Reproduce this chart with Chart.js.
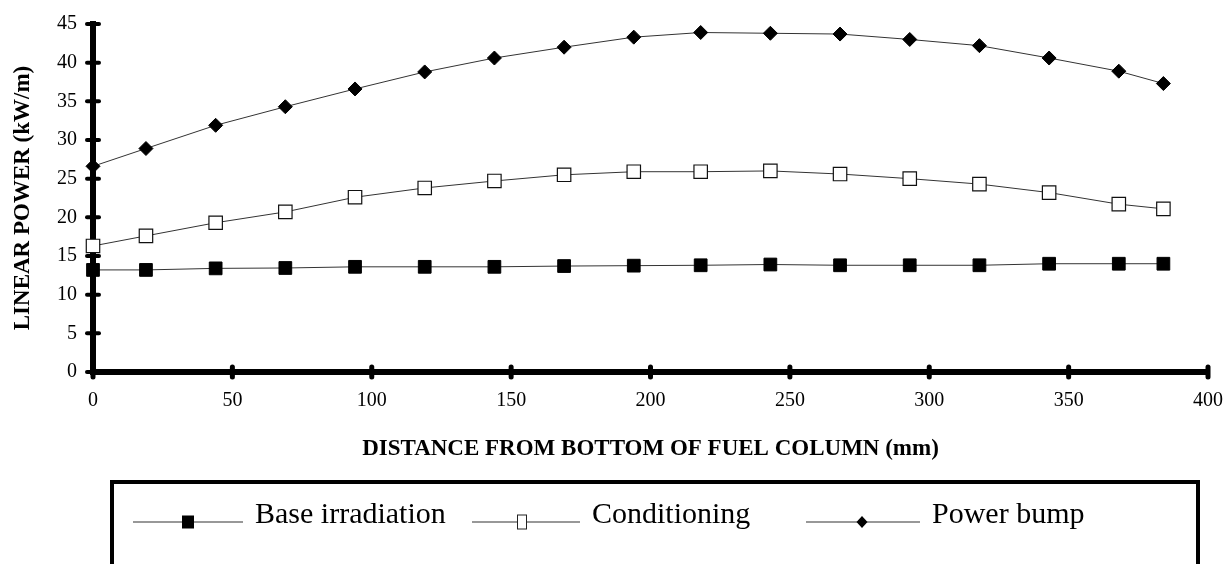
<!DOCTYPE html>
<html>
<head>
<meta charset="utf-8">
<script src="https://cdn.jsdelivr.net/npm/chart.js@4.4.0/dist/chart.umd.min.js"></script>
<style>
html,body{margin:0;padding:0;background:#fff;overflow:hidden;}
#wrap{position:relative;width:1227px;height:564px;overflow:hidden;background:#fff;}
#c{position:absolute;left:0;top:0;display:block;}
#legendBox{position:absolute;left:110px;top:480px;width:1090px;height:130px;border:4px solid #000;box-sizing:border-box;}
.lg-sym{position:absolute;}
.lg-txt{position:absolute;font-family:"Liberation Serif","Times New Roman",serif;font-size:30px;line-height:30px;color:#000;white-space:nowrap;}
</style>
</head>
<body>
<div id="wrap">
  <canvas id="c" width="1227" height="564"></canvas>
  <div id="legendBox"></div>
</div>
<script>
// ---- data ----
const distances = [0, 19, 44, 69, 94, 119, 144, 169, 194, 218, 243, 268, 293, 318, 343, 368, 384];
const baseIrradiation = [13.2, 13.2, 13.4, 13.45, 13.6, 13.6, 13.6, 13.7, 13.75, 13.8, 13.9, 13.8, 13.8, 13.8, 14.0, 14.0, 14.0];
const conditioning = [16.3, 17.6, 19.3, 20.7, 22.6, 23.8, 24.7, 25.5, 25.9, 25.9, 26.0, 25.6, 25.0, 24.3, 23.2, 21.7, 21.1];
const powerBump = [26.6, 28.9, 31.9, 34.3, 36.6, 38.8, 40.6, 42.0, 43.3, 43.9, 43.8, 43.7, 43.0, 42.2, 40.6, 38.9, 37.3];
const seriesNames = ["Base irradiation", "Conditioning", "Power bump"];
const xTitle = "DISTANCE FROM BOTTOM OF FUEL COLUMN (mm)";
const yTitle = "LINEAR POWER (kW/m)";
const xRange = [0, 400], xStep = 50;
const yRange = [0, 45], yStep = 5;

const SERIF = '"Liberation Serif","Times New Roman",serif';
const toXY = arr => arr.map((v, i) => ({x: distances[i], y: v}));

const axisBumps = {
  id: 'axisBumps',
  beforeDatasetsDraw(chart) {
    const {ctx, scales: {x, y}, chartArea} = chart;
    ctx.save();
    ctx.strokeStyle = '#000';
    ctx.lineCap = 'round';
    ctx.lineWidth = 4;
    y.ticks.forEach(t => {
      const py = y.getPixelForValue(t.value);
      ctx.beginPath(); ctx.moveTo(chartArea.left - 6, py); ctx.lineTo(chartArea.left + 6, py); ctx.stroke();
    });
    ctx.lineWidth = 5;
    x.ticks.forEach(t => {
      const px = x.getPixelForValue(t.value);
      ctx.beginPath(); ctx.moveTo(px, chartArea.bottom - 5); ctx.lineTo(px, chartArea.bottom + 5); ctx.stroke();
    });
    ctx.restore();
  }
};

const styles = [
  {pointStyle: 'rect', pointRadius: 9, pointBackgroundColor: '#000', pointBorderColor: '#000', pointBorderWidth: 1},
  {pointStyle: 'rect', pointRadius: 9.5, pointBackgroundColor: '#fff', pointBorderColor: '#111', pointBorderWidth: 1.2},
  {pointStyle: 'rectRot', pointRadius: 7, pointBackgroundColor: '#000', pointBorderColor: '#000', pointBorderWidth: 1}
];
const seriesData = [baseIrradiation, conditioning, powerBump];

const chart = new Chart(document.getElementById('c'), {
  type: 'line',
  data: {
    datasets: seriesData.map((arr, i) => Object.assign({
      label: seriesNames[i],
      data: toXY(arr),
      borderColor: '#333',
      borderWidth: 1,
      tension: 0,
      fill: false,
      clip: false,
      pointHoverRadius: styles[i].pointRadius
    }, styles[i]))
  },
  options: {
    responsive: false,
    maintainAspectRatio: false,
    animation: false,
    devicePixelRatio: 1,
    events: [],
    layout: {autoPadding: false, padding: {left: 0, right: 19, top: 24, bottom: 92}},
    plugins: {legend: {display: false}, tooltip: {enabled: false}},
    scales: {
      x: {
        type: 'linear', min: xRange[0], max: xRange[1],
        ticks: {stepSize: xStep, color: '#000', padding: 0, font: {family: SERIF, size: 20}, maxRotation: 0},
        grid: {display: true, drawOnChartArea: false, drawTicks: true, tickLength: 17, color: 'rgba(0,0,0,0)'},
        border: {display: true, color: '#000', width: 6},
        title: {display: true, text: xTitle, color: '#000', font: {family: SERIF, size: 23, weight: 'bold'}, padding: {top: 0, bottom: 9}},
        afterFit(s) { s.height = 100; }
      },
      y: {
        type: 'linear', min: yRange[0], max: yRange[1],
        ticks: {stepSize: yStep, color: '#000', padding: 0, font: {family: SERIF, size: 20}},
        grid: {display: true, drawOnChartArea: false, drawTicks: true, tickLength: 16, color: 'rgba(0,0,0,0)'},
        border: {display: true, color: '#000', width: 6},
        title: {display: true, text: yTitle, color: '#000', font: {family: SERIF, size: 23, weight: 'bold'}, padding: {top: 9, bottom: 0}},
        afterFit(s) { s.width = 93; }
      }
    }
  },
  plugins: [axisBumps]
});

// ---- HTML legend built from the datasets ----
const legendPos = [
  {x1: 133, x2: 243, mx: 188, tx: 255},
  {x1: 472, x2: 580, mx: 522, tx: 592},
  {x1: 806, x2: 920, mx: 862, tx: 932}
];
const wrap = document.getElementById('wrap');
chart.data.datasets.forEach((ds, i) => {
  const p = legendPos[i];
  const w = p.x2 - p.x1, h = 24, cy = 12;
  const mx = p.mx - p.x1;
  let marker = '';
  if (i === 0) marker = `<rect x="${mx-6}" y="${cy-6.5}" width="12" height="13" fill="#000"/>`;
  if (i === 1) marker = `<rect x="${mx-4.5}" y="${cy-7}" width="9" height="14" fill="#fff" stroke="#222" stroke-width="1"/>`;
  if (i === 2) marker = `<polygon points="${mx},${cy-6} ${mx+5.5},${cy} ${mx},${cy+6} ${mx-5.5},${cy}" fill="#000"/>`;
  const svg = document.createElement('div');
  svg.className = 'lg-sym';
  svg.style.left = p.x1 + 'px';
  svg.style.top = (522 - cy) + 'px';
  svg.innerHTML = `<svg width="${w}" height="${h}" xmlns="http://www.w3.org/2000/svg"><line x1="0" y1="${cy}" x2="${w}" y2="${cy}" stroke="#333" stroke-width="1.2"/>${marker}</svg>`;
  wrap.appendChild(svg);
  const t = document.createElement('div');
  t.className = 'lg-txt';
  t.style.left = p.tx + 'px';
  t.style.top = '498px';
  t.textContent = ds.label;
  wrap.appendChild(t);
});
</script>
</body>
</html>
